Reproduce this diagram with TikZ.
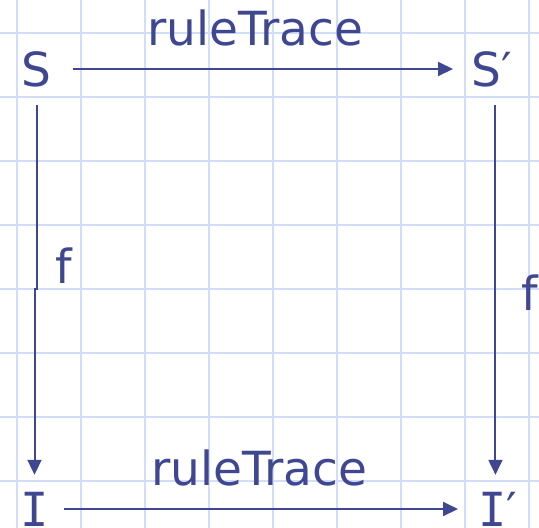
\documentclass[tikz,border=0pt]{standalone}
\usepackage{fontspec}
\setmainfont{DejaVu Sans}
\newfontfamily\slabfont{DejaVu Sans Mono}
\usepackage{xcolor}
\usepackage{tikz}
\usetikzlibrary{arrows.meta,calc,positioning}
\definecolor{DiagInk}{HTML}{3F4791}
\definecolor{GridBlue}{HTML}{D2DDF8}

\begin{document}
\begin{tikzpicture}[x=1pt,y=-1pt,font=\fontsize{47}{56}\selectfont,
    gridline/.style={GridBlue,line width=1.8pt},
    obj/.style={text=DiagInk,inner sep=0pt,text height=34pt,text depth=0pt,anchor=base},
    lbl/.style={text=DiagInk,inner sep=0pt,anchor=base},
    flow/.style={DiagInk,line width=2pt,-{Triangle[length=15pt,width=14pt]}}]
  \useasboundingbox (0,0) rectangle (539,528);
  % background grid
  \foreach \i in {0,...,8} \draw[gridline] (16.7+64*\i,0) -- (16.7+64*\i,528);
  \foreach \j in {0,...,7} \draw[gridline] (0,32.7+64*\j) -- (539,32.7+64*\j);
  % objects
  \node[obj] (S) at (36.5,86) {S};
  \node[obj,anchor=base west] (S') at (471,86) {S′};
  \node[obj] (I) at (34.5,526) {\slabfont I};
  \node[obj,anchor=base west] (I') at (478,526) {{\slabfont I}′};
  % labels
  \node[lbl] (topTrace) at (255,45) {ruleTrace};
  \node[lbl] (botTrace) at (259,485) {ruleTrace};
  \node[lbl,anchor=base west] (fLeft) at (55,283) {f};
  \node[lbl,anchor=base west] (fRight) at (521,310) {f};
  \coordinate (kink) at (36.5,289);
  % arrows
  \draw[flow,shorten <=21pt,shorten >=18pt] (S.east) -- (S'.west);
  \draw[flow,shorten <=15.5pt,shorten >=20pt] (I.east) -- (I'.west);
  \draw[flow,shorten <=19pt,shorten >=17pt] (S.south) -- (kink) -| (I.north);
  \draw[flow,shorten <=19pt,shorten >=17pt] ([xshift=4pt]S'.south) -- ([xshift=4pt]S'.south |- I'.north);
\end{tikzpicture}
\end{document}
